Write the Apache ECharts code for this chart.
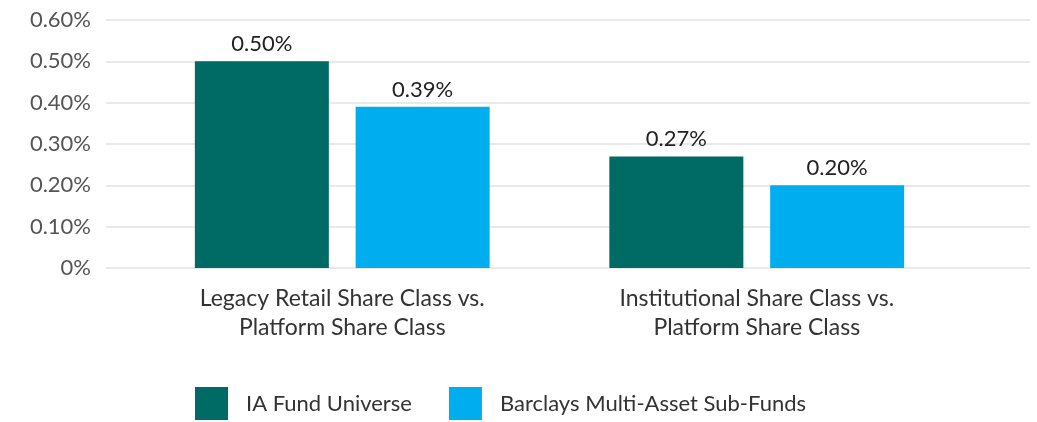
<!DOCTYPE html>
<html>
<head>
<meta charset="utf-8">
<script src="https://cdn.jsdelivr.net/npm/echarts@6/dist/echarts.min.js"></script>
<style>
  html, body { margin: 0; padding: 0; background: #fff; }
  #chart { width: 1037px; height: 422px; }
</style>
</head>
<body>
<div id="chart"></div>
<script>
// categories and values (percent)
const categories = ['Legacy Retail Share Class vs.\nPlatform Share Class', 'Institutional Share Class vs.\nPlatform Share Class']
const iaFund = [0.50, 0.27]
const barclays = [0.39, 0.20]
const seriesNames = ['IA Fund Universe', 'Barclays Multi-Asset Sub-Funds']
const yTicks = [0, 0.1, 0.2, 0.3, 0.4, 0.5, 0.6]

const font = 'Lato'

const option = {
  animation: false,
  legend: {
    left: 195,
    top: 387,
    padding: 0,
    itemWidth: 33,
    itemHeight: 33,
    itemGap: 37,
    icon: 'rect',
    textStyle: { fontFamily: font, fontSize: 22, color: '#333', padding: [5, 0, 0, 13] },
    data: seriesNames
  },
  grid: [
    { left: 106, right: 7, top: 20, bottom: 154 },
    { left: 135, right: 73, top: 20, bottom: 154 }
  ],
  xAxis: [
    { gridIndex: 0, type: 'category', data: categories, show: false },
    {
      gridIndex: 1,
      type: 'category',
      data: categories,
      axisLine: { show: false },
      axisTick: { show: false },
      axisLabel: {
        margin: 16,
        fontFamily: font,
        fontSize: 23,
        lineHeight: 29,
        color: '#333'
      }
    }
  ],
  yAxis: [
    {
      gridIndex: 0,
      type: 'value',
      min: yTicks[0],
      max: yTicks[yTicks.length - 1],
      interval: 0.1,
      axisLine: { show: false },
      axisTick: { show: false },
      splitLine: { lineStyle: { color: '#e2e2e2', width: 1.5 } },
      axisLabel: {
        margin: 15,
        fontFamily: font,
        fontSize: 22,
        color: '#555',
        formatter: v => (v === 0 ? '0%' : v.toFixed(2) + '%')
      }
    },
    {
      gridIndex: 1,
      type: 'value',
      min: yTicks[0],
      max: yTicks[yTicks.length - 1],
      interval: 0.1,
      show: false
    }
  ],
  series: [
    {
      name: seriesNames[0],
      type: 'bar',
      xAxisIndex: 1,
      yAxisIndex: 1,
      barWidth: 134,
      barGap: '20%',
      data: iaFund,
      itemStyle: { color: '#006A65' },
      label: {
        show: true,
        position: 'top',
        distance: 6,
        fontFamily: font,
        fontSize: 22,
        color: '#222',
        formatter: p => p.value.toFixed(2) + '%'
      }
    },
    {
      name: seriesNames[1],
      type: 'bar',
      xAxisIndex: 1,
      yAxisIndex: 1,
      barWidth: 134,
      barGap: '20%',
      data: barclays,
      itemStyle: { color: '#00AEEF' },
      label: {
        show: true,
        position: 'top',
        distance: 6,
        fontFamily: font,
        fontSize: 22,
        color: '#222',
        formatter: p => p.value.toFixed(2) + '%'
      }
    }
  ]
}

const myChart = echarts.init(document.getElementById('chart'))
myChart.setOption(option)
</script>
</body>
</html>
